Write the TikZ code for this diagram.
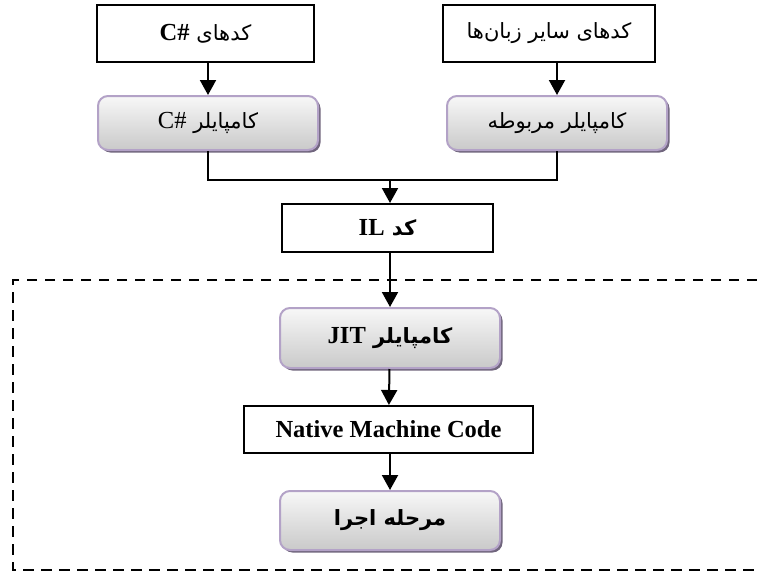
\documentclass[tikz,border=0pt]{standalone}
\usepackage{fontspec}
\setmainfont{Liberation Serif}
\newfontfamily\fa[Script=Arabic]{DejaVu Sans}
\TeXXeTstate=1
\usepackage{tikz}
\usetikzlibrary{arrows.meta,shadows}
\definecolor{edgepurple}{HTML}{B3A2C7}
\definecolor{shadepurple}{HTML}{403152}
\newcommand\lat[1]{\beginL{\rmfamily\fontsize{24.5}{27}\selectfont #1}\endL}
\tikzset{
	codebox/.style={draw, line width=2pt, minimum width=#1, minimum height=48pt, inner sep=0pt, font=\fontsize{21}{24}\selectfont},
	compbox/.style={draw=edgepurple, line width=2pt, rounded corners=10pt, minimum width=220pt, minimum height=#1, inner sep=0pt,
		top color=gray!6, bottom color=gray!42, font=\fontsize{21}{24}\selectfont,
		drop shadow={shadow xshift=2.5pt, shadow yshift=-2.5pt, opacity=1, fill=shadepurple!75}},
	link/.style={line width=2pt, -{Triangle[width=16pt,length=15pt]}}
}
\begin{document}
\begin{tikzpicture}[x=1pt,y=-1pt]
		\useasboundingbox (0,0) rectangle (757,573);
		% dashed run-time frame
		\draw[line width=2.4pt, dash pattern=on 10.5pt off 7.5pt] (757,280) -- (13,280) -- (13,570) -- (757,570);
		\node[codebox=217pt, minimum height=57pt] (cscode) at (205.5,33.5) {{\fa\beginR کدهای \lat{\bfseries C\#}\endR}};
		\node[codebox=212pt, minimum height=57pt] (othercode) at (549,33.5) {{\fa\beginR کدهای سایر زبان‌ها\endR}};
		\node[compbox=54pt] (cscomp) at (208,123) {{\fa\beginR کامپایلر \lat{C\#}\endR}};
		\node[compbox=54pt] (othercomp) at (557,123) {{\fa\beginR کامپایلر مربوطه\endR}};
		\node[codebox=211pt] (il) at (387.5,228) {{\fa\bfseries\beginR کد \lat{IL}\endR}};
		\node[compbox=60pt] (jit) at (390,338) {{\fa\bfseries\beginR کامپایلر \lat{JIT}\endR}};
		\node[codebox=289pt, minimum height=47pt] (native) at (388.5,429.5) {\lat{\bfseries Native Machine Code}};
		\node[compbox=59pt] (run) at (390,520.5) {{\fa\bfseries\beginR مرحله اجرا\endR}};
		\coordinate (merge) at (390,180);
		\draw[link] (cscode.south -| cscomp) -- (cscomp);
		\draw[link] (othercode.south -| othercomp) -- (othercomp);
		\draw[line width=2pt] (cscomp.south) |- (merge) -| (othercomp.south);
		\draw[link] (merge) -- (merge |- il.north);
		\draw[link] (il.south -| jit) -- (jit);
		\draw[link] (jit) -- (native);
		\draw[link] (native.south -| run) -- (run);
	\end{tikzpicture}
\end{document}
